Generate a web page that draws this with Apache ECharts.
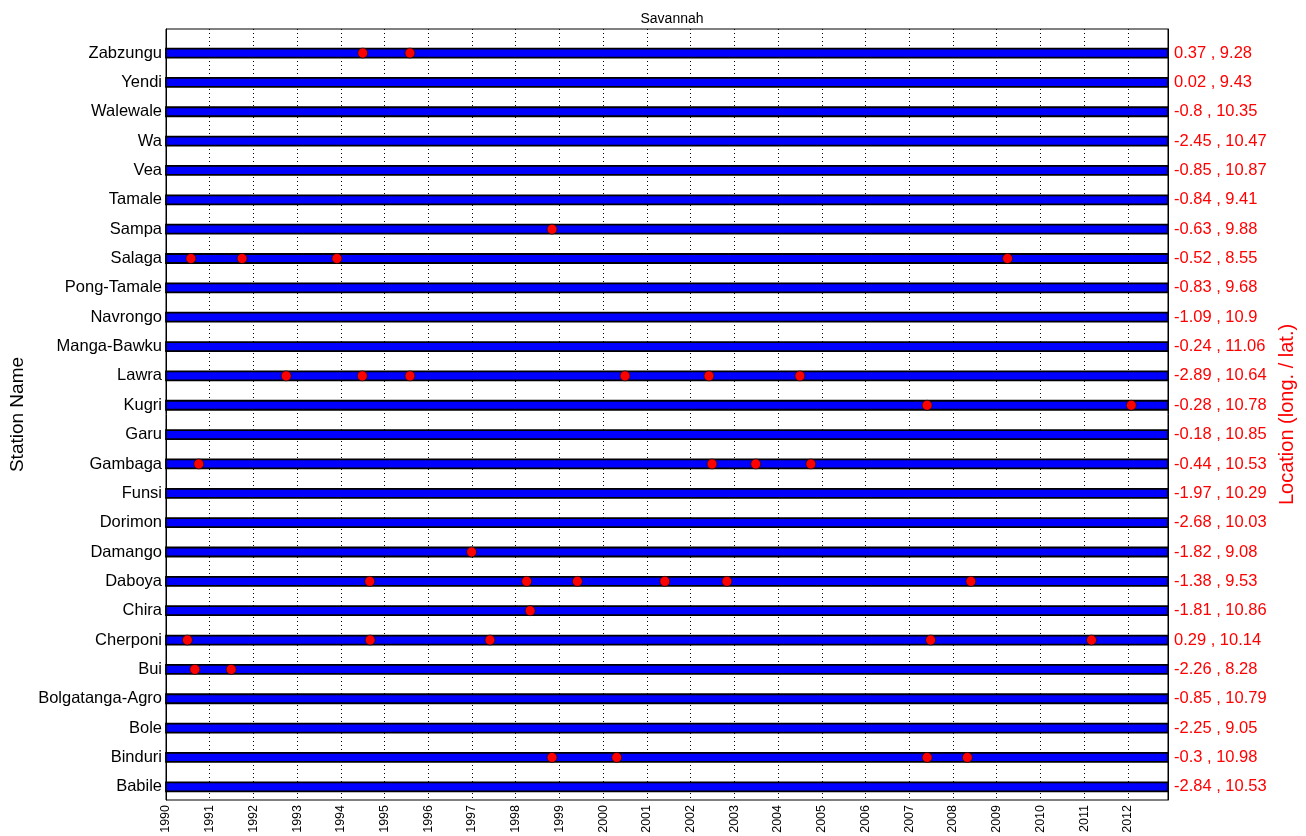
<!DOCTYPE html>
<html>
<head>
<meta charset="utf-8">
<script src="https://cdn.jsdelivr.net/npm/echarts@6/dist/echarts.min.js"></script>
<style>
html,body{margin:0;padding:0;background:#fff;}
#chart{width:1306px;height:836px;}
</style>
</head>
<body>
<div id="chart"></div>
<script>
// Stations, top to bottom
const stations = ["Zabzungu","Yendi","Walewale","Wa","Vea","Tamale","Sampa","Salaga","Pong-Tamale","Navrongo","Manga-Bawku","Lawra","Kugri","Garu","Gambaga","Funsi","Dorimon","Damango","Daboya","Chira","Cherponi","Bui","Bolgatanga-Agro","Bole","Binduri","Babile"];
const locations = ["0.37 , 9.28","0.02 , 9.43","-0.8 , 10.35","-2.45 , 10.47","-0.85 , 10.87","-0.84 , 9.41","-0.63 , 9.88","-0.52 , 8.55","-0.83 , 9.68","-1.09 , 10.9","-0.24 , 11.06","-2.89 , 10.64","-0.28 , 10.78","-0.18 , 10.85","-0.44 , 10.53","-1.97 , 10.29","-2.68 , 10.03","-1.82 , 9.08","-1.38 , 9.53","-1.81 , 10.86","0.29 , 10.14","-2.26 , 8.28","-0.85 , 10.79","-2.25 , 9.05","-0.3 , 10.98","-2.84 , 10.53"];
// Record period for every station (decimal years)
const recordStart = [1990,1990,1990,1990,1990,1990,1990,1990,1990,1990,1990,1990,1990,1990,1990,1990,1990,1990,1990,1990,1990,1990,1990,1990,1990,1990];
const recordEnd = [2012.92,2012.92,2012.92,2012.92,2012.92,2012.92,2012.92,2012.92,2012.92,2012.92,2012.92,2012.92,2012.92,2012.92,2012.92,2012.92,2012.92,2012.92,2012.92,2012.92,2012.92,2012.92,2012.92,2012.92,2012.92,2012.92];
// Marked events (decimal years) per station, same order as stations
const eventYears = [
  [1994.50, 1995.58],                                  // Zabzungu
  [],                                                  // Yendi
  [],                                                  // Walewale
  [],                                                  // Wa
  [],                                                  // Vea
  [],                                                  // Tamale
  [1998.83],                                           // Sampa
  [1990.57, 1991.74, 1993.91, 2009.25],                // Salaga
  [],                                                  // Pong-Tamale
  [],                                                  // Navrongo
  [],                                                  // Manga-Bawku
  [1992.75, 1994.49, 1995.58, 2000.50, 2002.42, 2004.50], // Lawra
  [2007.41, 2012.08],                                  // Kugri
  [],                                                  // Garu
  [1990.75, 2002.49, 2003.49, 2004.75],                // Gambaga
  [],                                                  // Funsi
  [],                                                  // Dorimon
  [1996.99],                                           // Damango
  [1994.66, 1998.25, 1999.41, 2001.41, 2002.83, 2008.41], // Daboya
  [1998.33],                                           // Chira
  [1990.49, 1994.67, 1997.41, 2007.49, 2011.17],       // Cherponi
  [1990.66, 1991.49],                                  // Bui
  [],                                                  // Bolgatanga-Agro
  [],                                                  // Bole
  [1998.83, 2000.31, 2007.41, 2008.33],                // Binduri
  []                                                   // Babile
];
const yearTicks = [1990,1991,1992,1993,1994,1995,1996,1997,1998,1999,2000,2001,2002,2003,2004,2005,2006,2007,2008,2009,2010,2011,2012];

const FONT = "'Liberation Sans', Arial, Helvetica, sans-serif";
const idx = stations.map((s, i) => i);
const barData = stations.map((s, i) => [recordStart[i], recordEnd[i], i]);
const dotData = [];
eventYears.forEach((ys, i) => ys.forEach(y => dotData.push([y, i])));

const chart = echarts.init(document.getElementById('chart'), null, {renderer: 'canvas'});
const yCommon = {
  type: 'value', inverse: true, min: -0.82, max: 25.45,
  splitLine: {show: false},
  axisLine: {show: true, lineStyle: {color: '#000', width: 1}}
};
chart.setOption({
  animation: false,
  backgroundColor: '#fff',
  title: {
    text: 'Savannah', left: 667, top: 7, textAlign: 'center',
    textStyle: {fontFamily: FONT, fontSize: 14, fontWeight: 'normal', color: '#000'}
  },
  grid: {left: 166, right: 138, top: 29, bottom: 36, show: true, borderColor: '#000', borderWidth: 1, backgroundColor: '#fff'},
  xAxis: {
    type: 'value', min: 1990, max: 2012.92, interval: 1,
    axisLine: {show: true, lineStyle: {color: '#000', width: 1}},
    axisTick: {show: true, inside: true, length: 5, customValues: yearTicks, lineStyle: {color: '#000'}},
    axisLabel: {rotate: 90, customValues: yearTicks, fontFamily: FONT, fontSize: 12.5, color: '#000', margin: 5, formatter: v => String(Math.round(v))},
    splitLine: {show: true, lineStyle: {color: '#000', width: 1, type: [1, 3]}}
  },
  yAxis: [
    Object.assign({}, yCommon, {
      position: 'left',
      name: 'Station Name', nameLocation: 'middle', nameGap: 138, nameRotate: 90,
      nameTextStyle: {fontFamily: FONT, fontSize: 19, color: '#000'},
      axisTick: {show: true, inside: true, length: 4, customValues: idx, lineStyle: {color: '#000'}},
      axisLabel: {customValues: idx, fontFamily: FONT, fontSize: 16.5, color: '#000', margin: 4, formatter: v => stations[Math.round(v)]}
    }),
    Object.assign({}, yCommon, {
      position: 'right',
      name: 'Location (long. / lat.)', nameLocation: 'middle', nameGap: 102, nameRotate: 90,
      nameTextStyle: {fontFamily: FONT, fontSize: 20, color: '#ff0000'},
      axisTick: {show: true, inside: true, length: 4, customValues: idx, lineStyle: {color: '#000'}},
      axisLabel: {customValues: idx, fontFamily: FONT, fontSize: 16.5, color: '#ff0000', margin: 6, formatter: v => locations[Math.round(v)]}
    })
  ],
  series: [
    {
      type: 'custom',
      yAxisIndex: 0,
      encode: {x: [0, 1], y: 2},
      data: barData,
      renderItem: function (params, api) {
        const y = api.value(2);
        const p0 = api.coord([api.value(0), y]);
        const p1 = api.coord([api.value(1), y]);
        const h = 9;
        return {
          type: 'rect',
          shape: {x: p0[0], y: p0[1] - h / 2, width: p1[0] - p0[0], height: h},
          style: {fill: '#0000ff', stroke: '#000', lineWidth: 1.8}
        };
      },
      z: 3
    },
    {
      type: 'scatter',
      yAxisIndex: 0,
      data: dotData,
      symbol: 'circle',
      symbolSize: 10,
      itemStyle: {color: '#ff0000', borderColor: '#000', borderWidth: 0.6, opacity: 1},
      z: 5
    }
  ]
});
</script>
</body>
</html>
